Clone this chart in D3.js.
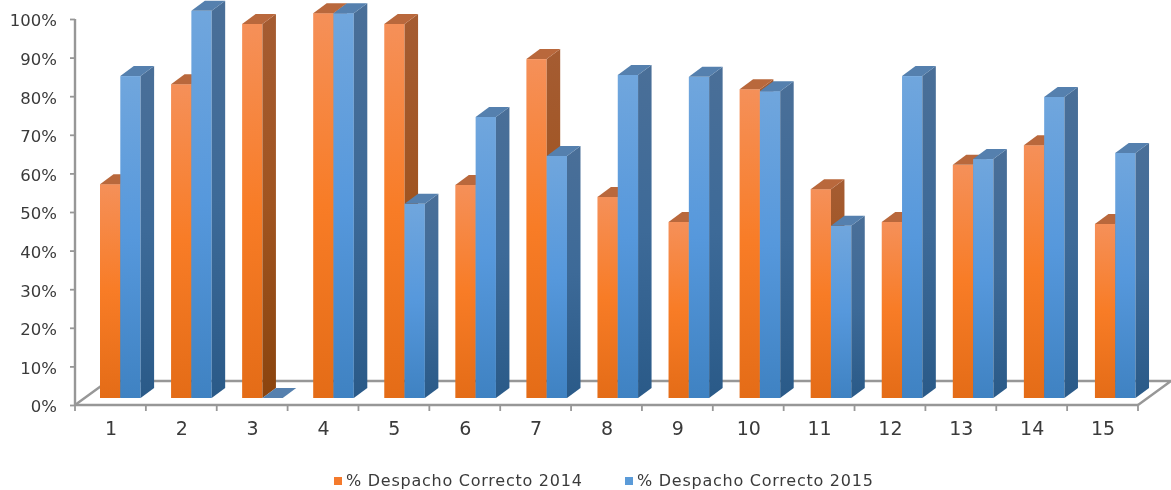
<!DOCTYPE html>
<html><head><meta charset="utf-8">
<script src="https://cdn.jsdelivr.net/npm/d3@7"></script>
<style>
html,body{margin:0;padding:0;background:#fff}
svg{display:block;filter:blur(0.45px)}
text{font-family:"DejaVu Sans",Verdana,sans-serif;fill:#3a3a3a}
</style></head><body>
<svg id="c" width="1171" height="490"></svg>
<script>
const categories=["1","2","3","4","5","6","7","8","9","10","11","12","13","14","15"];
const values2014=[55.4,81.3,96.9,99.7,96.9,55.2,87.8,52.1,45.6,80,54.1,45.6,60.4,65.5,45.1];
const values2015=[83.4,100.3,0,99.7,50.3,72.8,62.7,83.7,83.2,79.5,44.6,83.4,61.9,78,63.5];
const seriesNames=["% Despacho Correcto 2014","% Despacho Correcto 2015"];
const yTicks=[0,10,20,30,40,50,60,70,80,90,100];

const svg=d3.select("#c"), defs=svg.append("defs");
const x=d3.scaleBand().domain(categories).range([75,1138]);
const xBar=d3.scaleBand().domain(categories).range([100,1166]);
const y=d3.scaleLinear().domain([0,100]).range([405,19]);
const baseLift=7, barW=20.3, dep=13.5, rise=-10;

function grad(id,stops){
  const g=defs.append("linearGradient").attr("id",id).attr("x1",0).attr("x2",0).attr("y1",0).attr("y2",1);
  stops.forEach((c,i)=>g.append("stop").attr("offset",(i/(stops.length-1)*100)+"%").attr("stop-color",c));
}
grad("o-f",["#f59059","#f87c26","#e46c17"]);
grad("o-s",["#a55c32","#a05420","#8a440e"]);
grad("b-f",["#70a6dd","#5698dc","#3f82c2"]);
grad("b-s",["#4a6f98","#3d6a98","#2a5a88"]);

const axisCol="#979797";
// floor
const fx0=x.range()[0], fx1=x.range()[1], floorY=y(0)-24;
svg.append("path").attr("fill","none").attr("stroke",axisCol).attr("stroke-width",2.4)
  .attr("d",d3.line()([[fx0,y(0)],[fx0+33,floorY],[fx1+33,floorY],[fx1,y(0)]]));

// axes
const ay=svg.append("g").attr("transform","translate(75,0)")
  .call(d3.axisLeft(y).tickValues(yTicks).tickFormat(d=>d+"%").tickSize(5).tickPadding(13));
const ax=svg.append("g").attr("transform",`translate(0,${y(0)})`)
  .call(d3.axisBottom(x).tickSize(0).tickPadding(17));
ax.selectAll(".tick line").remove();
ax.selectAll(".xt").data(d3.range(16)).enter().append("line").attr("class","xt")
  .attr("x1",i=>fx0+i*x.step()).attr("x2",i=>fx0+i*x.step()).attr("y1",0).attr("y2",6);
[ay,ax].forEach(a=>{a.selectAll("path.domain").attr("stroke",axisCol).attr("stroke-width",2.4);
  a.selectAll("line").attr("stroke",axisCol).attr("stroke-width",1.8);});
ay.selectAll("path.domain").attr("d",`M0,${y(100)}V${y(0)}`);
ax.selectAll("path.domain").attr("d",`M75,0H1138`);
ay.selectAll("text").attr("font-size",16.5).attr("fill","#3a3a3a").attr("dy","0.42em");
ax.selectAll("text").attr("font-size",19).attr("fill","#3a3a3a").attr("dx",0.5);

// bars
function bar(g,v,x0,pre){
  const yb=y(0)-baseLift, yt=y(v)-baseLift, w=barW;
  if(v>0){
    g.append("rect").attr("x",x0).attr("y",yt).attr("width",w).attr("height",yb-yt).attr("fill",`url(#${pre}-f)`);
    g.append("path").attr("d",d3.line()([[x0+w,yt],[x0+w+dep,yt+rise],[x0+w+dep,yb+rise],[x0+w,yb]])).attr("fill",`url(#${pre}-s)`);
  }
  g.append("path").attr("d",d3.line()([[x0,yt],[x0+dep,yt+rise],[x0+w+dep,yt+rise],[x0+w,yt]]))
   .attr("fill",pre==="o"?"#b9683c":"#5580ae");
}
const gb=svg.append("g");
categories.forEach((c,i)=>{
  const xo=xBar(c);
  bar(gb,values2014[i],xo,"o");
  bar(gb,values2015[i],xo+barW,"b");
});

// legend
const lx=[334,625], lc=["#f47a2c","#5b9bd8"];
seriesNames.forEach((n,i)=>{
  svg.append("rect").attr("x",lx[i]).attr("y",477).attr("width",8).attr("height",8).attr("fill",lc[i]);
  svg.append("text").attr("x",lx[i]+12).attr("y",486).attr("font-size",16).attr("letter-spacing",0.75).text(n);
});
</script></body></html>
